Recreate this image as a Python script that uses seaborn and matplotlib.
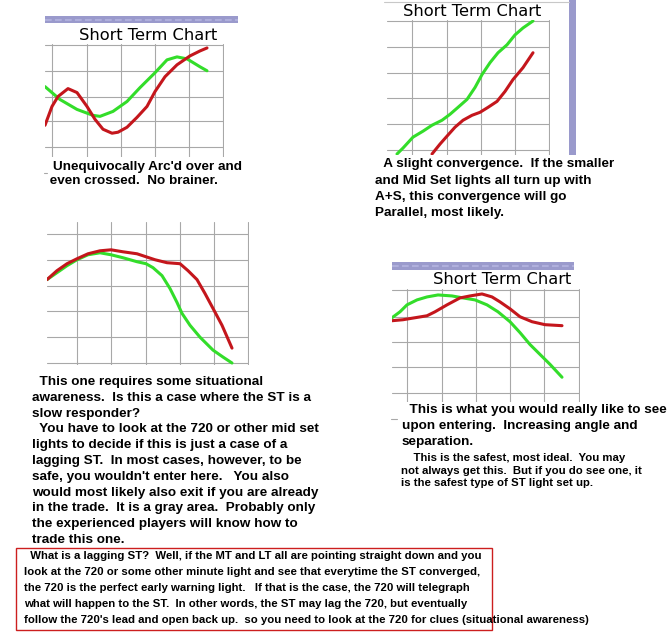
import matplotlib
matplotlib.use("Agg")
import matplotlib.pyplot as plt
import seaborn as sns
import pandas as pd
from matplotlib.patches import Rectangle
from matplotlib.lines import Line2D

sns.set_theme(style="white")
plt.rcParams['font.family'] = ['Liberation Sans', 'DejaVu Sans']

# ---------------- data (t = time step, v = value) ----------------
p1_green_t = [0, 15, 32, 48, 55, 68, 82, 95, 110, 122, 132, 142, 155, 162]
p1_green_v = [70, 57, 47, 41, 40, 45, 55, 69, 84, 97, 100, 98, 90, 86]
p1_red_t = [0, 7, 13, 23, 32, 42, 50, 58, 67, 73, 82, 92, 102, 110, 120, 132, 145, 155, 162]
p1_red_v = [31, 50, 60, 68, 64, 50, 37, 27, 23, 24, 29, 39, 50, 65, 80, 92, 101, 106, 109]

p2_green_t = [10, 16, 26, 36, 45, 55, 63, 71, 80, 88, 95, 103, 111, 120, 128, 136, 146]
p2_green_v = [0, 6, 17, 23, 29, 34, 40, 47, 55, 67, 80, 92, 102, 110, 120, 127, 134]
p2_red_t = [45, 53, 60, 68, 76, 85, 93, 101, 110, 118, 126, 136, 146]
p2_red_v = [0, 10, 18, 27, 34, 39, 42, 47, 53, 63, 75, 87, 102]

p3_green_t = [0, 10, 20, 30, 41, 53, 64, 76, 90, 99, 106, 115, 123, 130, 135, 143, 153, 166, 176, 185]
p3_green_v = [85, 92, 99, 105, 110, 112, 110, 107, 103, 101, 97, 89, 76, 62, 51, 39, 27, 14, 7, 1]
p3_red_t = [0, 10, 20, 30, 41, 53, 64, 76, 90, 99, 108, 120, 133, 141, 150, 158, 166, 175, 185]
p3_red_v = [85, 94, 101, 106, 111, 114, 115, 113, 111, 108, 105, 102, 101, 94, 85, 71, 56, 39, 16]

p4_green_t = [0, 8, 15, 25, 35, 46, 60, 71, 83, 95, 106, 118, 128, 138, 148, 158, 170]
p4_green_v = [84, 90, 97, 102, 105, 107, 106, 104, 102, 97, 90, 80, 69, 57, 47, 37, 24]
p4_red_t = [0, 11, 23, 35, 43, 55, 68, 78, 90, 100, 108, 118, 128, 140, 153, 170]
p4_red_v = [81, 82, 84, 86, 90, 97, 104, 106, 108, 105, 100, 93, 85, 80, 77, 76]

chart_title = "Short Term Chart"

p1_text = ["Unequivocally Arc'd over and", " even crossed.  No brainer."]
p2_text = [" A slight convergence.  If the smaller",
           "and Mid Set lights all turn up with",
           "A+S, this convergence will go",
           "Parallel, most likely."]
p3_text = ["  This one requires some situational",
           "awareness.  Is this a case where the ST is a",
           "slow responder?",
           "  You have to look at the 720 or other mid set",
           "lights to decide if this is just a case of a",
           "lagging ST.  In most cases, however, to be",
           "safe, you wouldn't enter here.   You also",
           "would most likely also exit if you are already",
           "in the trade.  It is a gray area.  Probably only",
           "the experienced players will know how to",
           "trade this one."]
p4_text = ["  This is what you would really like to see",
           "upon entering.  Increasing angle and",
           "separation."]
p4_small = ["    This is the safest, most ideal.  You may",
            "not always get this.  But if you do see one, it",
            "is the safest type of ST light set up."]
box_text = ["  What is a lagging ST?  Well, if the MT and LT all are pointing straight down and you",
            "look at the 720 or some other minute light and see that everytime the ST converged,",
            "the 720 is the perfect early warning light.   If that is the case, the 720 will telegraph",
            "what will happen to the ST.  In other words, the ST may lag the 720, but eventually",
            "follow the 720's lead and open back up.  so you need to look at the 720 for clues (situational awareness)"]

# ---------------- layout helpers ----------------
W, H = 669, 639
fig = plt.figure(figsize=(W / 100, H / 100), dpi=100)
fig.patch.set_facecolor("white")

GREEN = "#33dd2a"
RED = "#c4161c"
GRID = "#a8a8a8"
PURPLE = "#9a9acc"
PURPLE_L = "#b4b4e0"


def fx(x):
    return x / W


def fy(y):
    return 1 - y / H


def panel(x0, y0, x1, y1, xt, yt):
    ax = fig.add_axes([fx(x0), fy(y1), (x1 - x0) / W, (y1 - y0) / H])
    ax.set_xlim(0, x1 - x0)
    ax.set_ylim(-1, y1 - y0)
    ax.set_xticks(xt)
    ax.set_yticks(yt)
    ax.set_xticklabels([])
    ax.set_yticklabels([])
    ax.tick_params(length=0)
    ax.grid(True, color=GRID, lw=0.8)
    for s in ax.spines.values():
        s.set_visible(False)
    ax.set_facecolor("none")
    return ax


def draw(ax, gt, gv, rt, rv):
    sns.lineplot(x=gt, y=gv, ax=ax, color=GREEN, lw=2.2, sort=False,
                 solid_capstyle="round", solid_joinstyle="round")
    sns.lineplot(x=rt, y=rv, ax=ax, color=RED, lw=2.2, sort=False,
                 solid_capstyle="round", solid_joinstyle="round")
    ax.set_xlabel("")
    ax.set_ylabel("")


def text_lines(x, y0, lines, step, size, **kw):
    for i, s in enumerate(lines):
        fig.text(fx(x), fy(y0 + i * step), s, ha="left", va="center",
                 fontsize=size, fontweight="bold", color="black", **kw)


def hbar(x0, y0, x1, y1):
    fig.patches.append(Rectangle((fx(x0), fy(y1)), (x1 - x0) / W, (y1 - y0) / H,
                                 transform=fig.transFigure, facecolor=PURPLE,
                                 edgecolor="none"))
    ym = (y0 + y1) / 2
    fig.lines.append(Line2D([fx(x0), fx(x1)], [fy(ym), fy(ym)], transform=fig.transFigure,
                            color=PURPLE_L, lw=1.2, ls=(0, (4, 2))))


def title(xc, yc):
    fig.text(fx(xc), fy(yc), chart_title, ha="center", va="center",
             fontsize=11.7, family="DejaVu Sans", color="black")

# ---------------- panel 1 ----------------
hbar(45, 16, 238, 23)
title(148, 36)
ax1 = panel(45, 44, 224, 157, [7, 42, 76, 110, 144, 178], [9, 35, 60, 86, 112])
draw(ax1, p1_green_t, p1_green_v, p1_red_t, p1_red_v)
text_lines(53, 167, p1_text[:1], 14, 9.7)
text_lines(46, 181, p1_text[1:], 14, 9.7)
fig.lines.append(Line2D([fx(44), fx(47)], [fy(173), fy(173)], transform=fig.transFigure,
                        color=GRID, lw=0.8))

# ---------------- panel 2 ----------------
fig.lines.append(Line2D([fx(384), fx(569)], [fy(2), fy(2)], transform=fig.transFigure,
                        color="#c8c8c8", lw=0.8))
fig.patches.append(Rectangle((fx(569), fy(155)), 7 / W, 155 / H, transform=fig.transFigure,
                             facecolor=PURPLE, edgecolor="none"))
title(472, 12)
ax2 = panel(387, 20, 550, 155, [25, 60, 94, 128, 162], [4, 30, 56, 82, 108, 134])
draw(ax2, p2_green_t, p2_green_v, p2_red_t, p2_red_v)
text_lines(380, 164, p2_text[:1], 16, 9.7)
text_lines(375, 181, p2_text[1:], 16, 9.7)

# ---------------- panel 3 ----------------
ax3 = panel(47, 222, 249, 365, [30, 64, 99, 133, 167, 201], [1, 27, 53, 79, 105, 131])
draw(ax3, p3_green_t, p3_green_v, p3_red_t, p3_red_v)
text_lines(32, 382, p3_text, 15.8, 9.7)

# ---------------- panel 4 ----------------
hbar(392, 262, 574, 270)
title(502, 280)
ax4 = panel(392, 289, 580, 402, [15, 50, 84, 118, 152, 187], [8, 34, 60, 85, 112])
draw(ax4, p4_green_t, p4_green_v, p4_red_t, p4_red_v)
fig.lines.append(Line2D([fx(391), fx(397)], [fy(419), fy(419)], transform=fig.transFigure,
                        color=GRID, lw=0.8))
text_lines(402, 410, p4_text, 16, 9.7)
text_lines(401, 458, p4_small, 12.6, 8.2)

# ---------------- bottom box ----------------
fig.patches.append(Rectangle((fx(16), fy(630)), (492 - 16) / W, (630 - 548) / H,
                             transform=fig.transFigure, facecolor="none",
                             edgecolor="#cc1f1f", lw=1.0))
text_lines(24, 556, box_text, 16, 8.2)

fig.savefig("out.png", dpi=100, facecolor="white")
